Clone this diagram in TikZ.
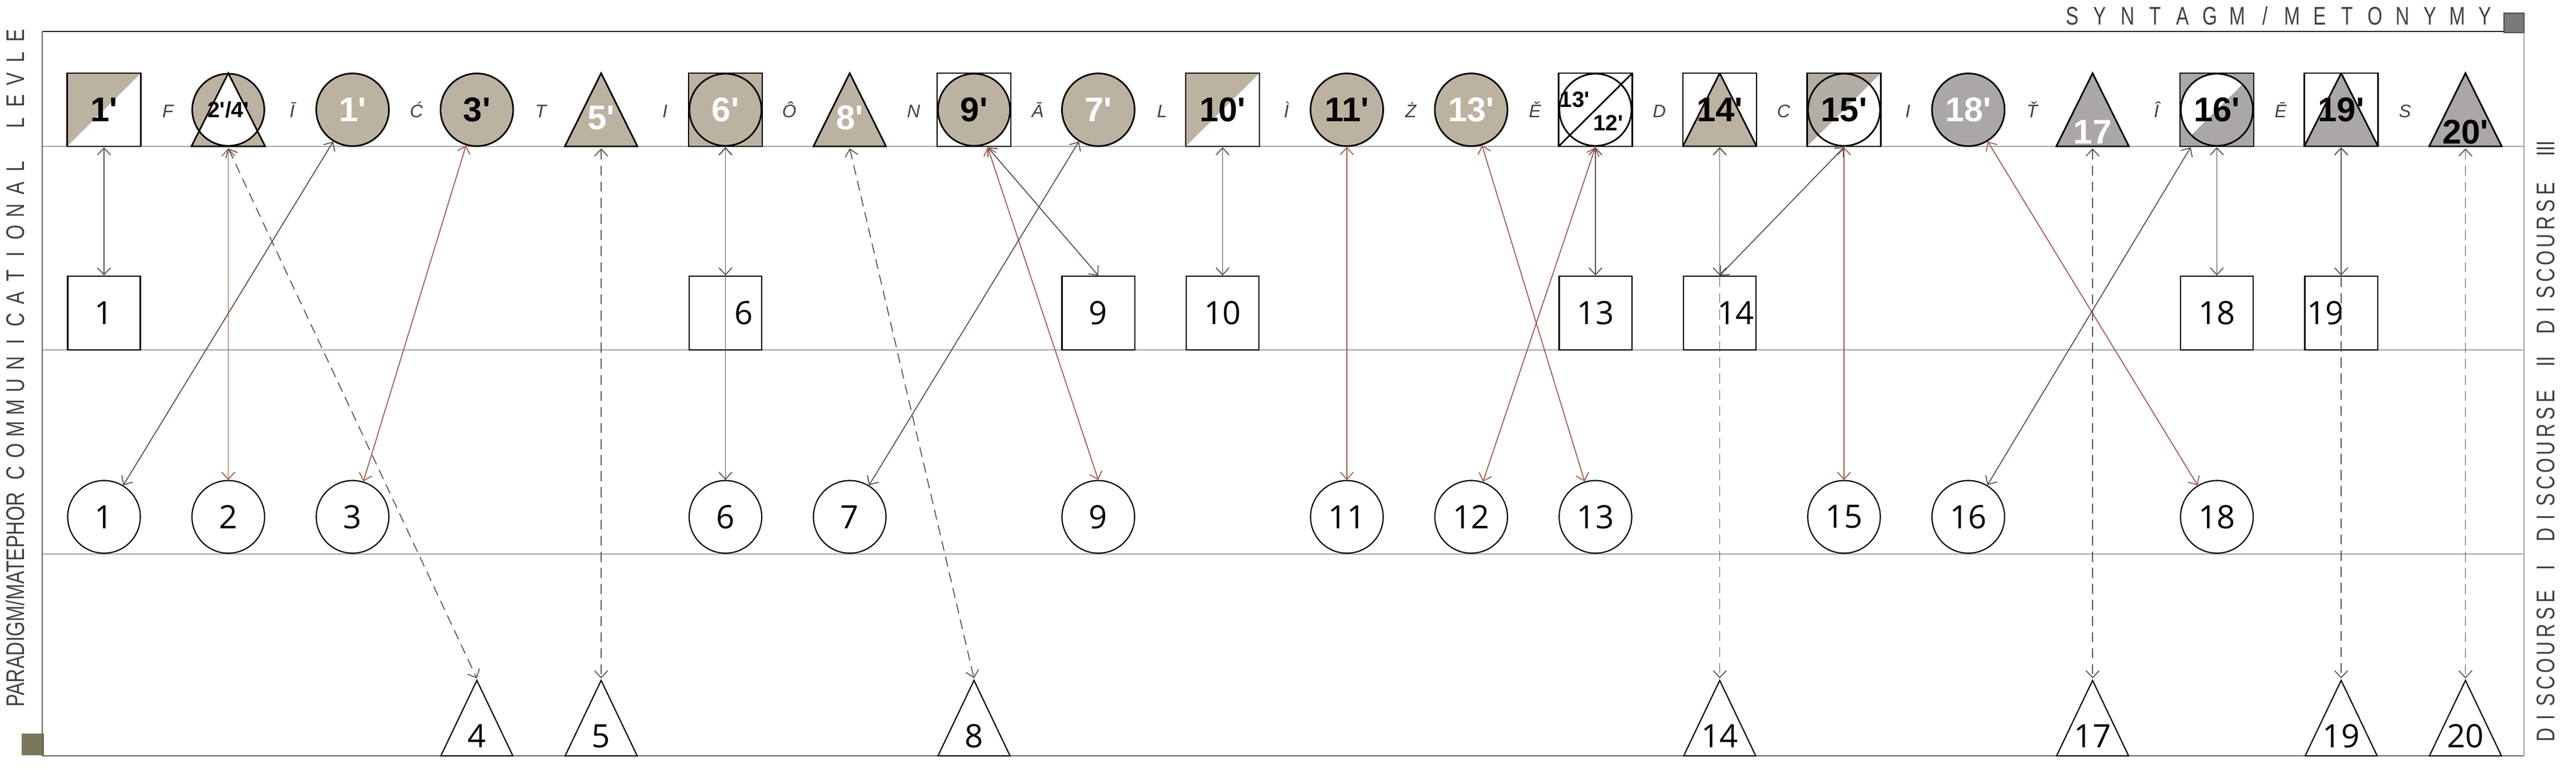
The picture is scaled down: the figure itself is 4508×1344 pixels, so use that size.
\documentclass[tikz,border=0pt]{standalone}
\usepackage{graphicx}
\usepackage{fontspec}
\setmainfont{Liberation Sans}
\newfontfamily\numfamily{Open Sans}
\usetikzlibrary{arrows.meta}

\definecolor{shadetan}{RGB}{188,178,161}
\definecolor{shadegrey}{RGB}{171,166,168}
\definecolor{greytan}{RGB}{178,173,165}
\definecolor{linkdark}{RGB}{95,80,78}
\definecolor{linkred}{RGB}{160,92,80}
\definecolor{rulegrey}{RGB}{165,165,165}
\definecolor{olivebox}{RGB}{122,118,92}

\newcommand\topnum{\fontsize{17}{17}\selectfont\bfseries}
\newcommand\twonum{\fontsize{11}{11}\selectfont\bfseries}
\newcommand\lownum{\numfamily\fontsize{16}{16}\selectfont}
\newcommand\gapfont{\fontsize{9}{9}\selectfont\itshape}
\newcommand\edgefont{\fontsize{12.7}{12.7}\selectfont}
\newcommand\primemark{\textquotesingle}
\newcommand\ppb{path picture bounding box}
\newcommand\narrow[1]{\scalebox{0.75}[1]{#1}}

\tikzset{
  >={Straight Barb[length=3.5pt,width=6.5pt]},
  link/.style={<->, line width=0.5pt, linkdark},
  redlink/.style={link, linkred},
  dashlink/.style={link, dash pattern=on 5pt off 3pt, black!65},
  tsq/.style={rectangle, draw, minimum width=1.29cm, minimum height=1.28cm,
    inner sep=0pt, font=\topnum},
  halfsq/.style={tsq, path picture={\fill[#1] (\ppb.north west) --
    (\ppb.north east) -- (\ppb.south west) -- cycle;}},
  ringsq/.style 2 args={tsq, fill=#1, path picture={\filldraw[fill=#2]
    (\ppb.center) circle (0.63cm);}},
  trisq/.style={tsq, path picture={\filldraw[fill=#1] (\ppb.south west) --
    (\ppb.north) -- (\ppb.south east) -- cycle;}},
  crosssq/.style={tsq, path picture={\draw (\ppb.center) circle (0.63cm);
    \draw (\ppb.south west) -- (\ppb.north east);}},
  halfring/.style={tsq, path picture={\fill[#1] (\ppb.north west) --
    (\ppb.north east) -- (\ppb.south west) -- cycle;
    \draw (\ppb.center) circle (0.63cm);}},
  splitsq/.style={tsq, fill=#1, path picture={\fill[white] (\ppb.center)
    circle (0.63cm);
    \begin{scope}\clip (\ppb.center) circle (0.63cm);
    \fill[#1] (\ppb.north east) -- (\ppb.south east) -- (\ppb.south west) -- cycle;
    \end{scope}
    \draw (\ppb.center) circle (0.63cm);}},
  tcirc/.style={circle, draw, fill=#1, minimum size=1.27cm, inner sep=0pt,
    font=\topnum},
  tcirc/.default=shadetan,
  twin/.style={rectangle, minimum width=1.33cm, minimum height=1.32cm,
    inner sep=0pt, font=\twonum, path picture={\filldraw[fill=#1, even odd rule]
    (\ppb.center) circle (0.63cm)
    ([shift={(-0.645cm,-0.64cm)}]\ppb.center) -- ([shift={(0cm,0.64cm)}]\ppb.center)
    -- ([shift={(0.645cm,-0.64cm)}]\ppb.center) -- cycle;}},
  ttri/.style={rectangle, minimum width=1.31cm, minimum height=1.32cm,
    inner sep=0pt, font=\topnum, text depth=0pt, path picture={\filldraw[fill=#1]
    ([shift={(-0.635cm,-0.64cm)}]\ppb.center) -- ([shift={(0cm,0.64cm)}]\ppb.center)
    -- ([shift={(0.635cm,-0.64cm)}]\ppb.center) -- cycle;}},
  lsq/.style={rectangle, draw, line width=0.6pt, minimum width=1.27cm,
    minimum height=1.29cm, inner sep=0pt, font=\lownum},
  lcirc/.style={circle, draw, line width=0.6pt, minimum size=1.27cm,
    inner sep=0pt, font=\lownum},
  ltri/.style={rectangle, minimum width=1.30cm, minimum height=1.36cm,
    inner sep=0pt, font=\lownum, text height=1.02cm, text depth=0pt,
    path picture={\filldraw[fill=white, line width=0.6pt]
    ([shift={(-0.63cm,-0.66cm)}]\ppb.center) -- ([shift={(0cm,0.66cm)}]\ppb.center)
    -- ([shift={(0.63cm,-0.66cm)}]\ppb.center) -- cycle;}},
  gapletter/.style={font=\gapfont, text=black!75, inner sep=0pt, anchor=base},
  edgetext/.style={font=\edgefont, text=black!75, inner sep=0pt, anchor=base}
}

\begin{document}
\begin{tikzpicture}[x=0.01cm, y=-0.01cm, line width=0.8pt]
\useasboundingbox (0,0) rectangle (4508,1344);

% frame and level rules
\draw[black!85] (74,55) -- (4382,55);
\filldraw[fill=black!52, draw=black!70, line width=0.4pt] (4382,23) rectangle (4417,57);
\fill[olivebox] (38,1283) rectangle (77,1321);
\foreach \yy in {256,612,969}
  \draw[rulegrey, line width=0.5pt] (74,\yy) -- (4417,\yy);
\draw[black!60, line width=0.6pt] (74,55) -- (74,1322) -- (4417,1322);
\draw[rulegrey, line width=0.6pt] (4417,57) -- (4417,1322);

% syntagm row
\node[halfsq=shadetan] (t0) at (182,192) {1\primemark};
\node[twin=shadetan] (t1) at (399.5,192) {2\primemark/4\primemark};
\node[tcirc, text=white] (t2) at (617,192) {1\primemark};
\node[tcirc] (t3) at (834.5,192) {3\primemark};
\node[ttri=shadetan, text=white, text height=0.69cm] (t4) at (1052,192) {5\primemark};
\node[ringsq={shadetan}{shadetan}, text=white] (t5) at (1269.5,192) {6\primemark};
\node[ttri=shadetan, text=white, text height=0.69cm] (t6) at (1487,192) {8\primemark};
\node[ringsq={white}{shadetan}] (t7) at (1704.5,192) {9\primemark};
\node[tcirc, text=white] (t8) at (1922,192) {7\primemark};
\node[halfsq=shadetan] (t9) at (2139.5,192) {10\primemark};
\node[tcirc] (t10) at (2357,192) {11\primemark};
\node[tcirc, text=white] (t11) at (2574.5,192) {13\primemark};
\node[crosssq] (t12) at (2792,192) {\raisebox{0pt}[0pt][0pt]{\twonum
  \llap{\raisebox{0.05cm}{13\primemark}\hspace{0.1cm}}%
  \rlap{\hspace{-0.04cm}\raisebox{-0.36cm}{12\primemark}}}};
\node[trisq=shadetan] (t13) at (3009.5,192) {14\primemark};
\node[halfring=greytan] (t14) at (3227,192) {15\primemark};
\node[tcirc=shadegrey, text=white] (t15) at (3444.5,192) {18\primemark};
\node[ttri=shadegrey, text=white, text height=1.19cm] (t16) at (3662,192) {17};
\node[splitsq=shadegrey] (t17) at (3879.5,192) {16\primemark};
\node[trisq=shadegrey] (t18) at (4097,192) {19\primemark};
\node[ttri=shadegrey, text height=1.19cm] (t19) at (4314.5,192) {20\primemark};

% letters between the syntagm signs
\foreach \ch [count=\i from 0] in {F,Ī,Ć,T,I,Ô,N,Ā,L,Ì,Ż,Ě,D,C,I,Ť,Î,Ē,S}
  \node[gapletter] (g\i) at ({293.75+217.5*\i},205) {\ch};

% discourse III
\node[lsq] (a0) at (182,547.5) {1};
\node[lsq] (a5) at (1269.5,547.5) {\makebox[0.96cm][r]{6}};
\node[lsq] (a8) at (1922,547.5) {9};
\node[lsq] (a9) at (2139.5,547.5) {10};
\node[lsq] (a12) at (2792,547.5) {13};
\node[lsq] (a13) at (3009.5,547.5) {\makebox[1.2cm][r]{14}};
\node[lsq] (a17) at (3879.5,547.5) {18};
\node[lsq] (a18) at (4097,547.5) {\makebox[1.2cm][l]{19}};

% discourse II
\node[lcirc] (b0) at (182,904) {1};
\node[lcirc] (b1) at (399.5,904) {2};
\node[lcirc] (b2) at (617,904) {3};
\node[lcirc] (b5) at (1269.5,904) {6};
\node[lcirc] (b6) at (1487,904) {7};
\node[lcirc] (b8) at (1922,904) {9};
\node[lcirc] (b10) at (2357,904) {11};
\node[lcirc] (b11) at (2574.5,904) {12};
\node[lcirc] (b12) at (2792,904) {13};
\node[lcirc] (b14) at (3227,904) {15};
\node[lcirc] (b15) at (3444.5,904) {16};
\node[lcirc] (b17) at (3879.5,904) {18};

% discourse I
\node[ltri] (c3) at (834.5,1256) {4};
\node[ltri] (c4) at (1052,1256) {5};
\node[ltri] (c7) at (1704.5,1256) {8};
\node[ltri] (c13) at (3009.5,1256) {14};
\node[ltri] (c16) at (3662,1256) {17};
\node[ltri] (c18) at (4097,1256) {19};
\node[ltri] (c19) at (4314.5,1256) {20};

% paradigm links
\draw[link] (t0.south) -- (a0.north);
\draw[redlink] (t1.south) -- (b1.north);
\draw[dashlink] (t1.south) -- (c3.north);
\draw[link] (t2) -- (b0);
\draw[redlink] (t3) -- (b2);
\draw[dashlink] (t4.south) -- (c4.north);
\draw[link] (t5.south) -- (a5.north);
\draw[link] (t5.south) -- (b5.north);
\draw[dashlink] (t6.south) -- (c7.north);
\draw[link] (t7.-70) -- (a8.north);
\draw[redlink] (t7.-70) -- (b8.north);
\draw[link] (t8) -- (b6);
\draw[link] (t9.south) -- (a9.north);
\draw[redlink] (t10.south) -- (b10.north);
\draw[redlink] (t11) -- (b12);
\draw[redlink] (t12.south) -- (b11);
\draw[link] (t12.south) -- (a12.north);
\draw[link] (t13.south) -- (a13.north);
\draw[dashlink] (t13.south) -- (c13.north);
\draw[redlink] (t14.south) -- (b14.north);
\draw[link] (t14.south) -- (a13.north);
\draw[redlink] (t15) -- (b17);
\draw[dashlink] (t16.south) -- (c16.north);
\draw[link] (t17.-125) -- (b15);
\draw[link] (t17.south) -- (a17.north);
\draw[link] (t18.south) -- (a18.north);
\draw[dashlink] (t18.south) -- (c18.north);
\draw[dashlink] (t19.south) -- (c19.north);

% edge captions
\foreach \ch [count=\k from 0] in {S,Y,N,T,A,G,M,/,M,E,T,O,N,Y,M,Y}
  \node[edgetext] (sy\k) at ({3627+48.1*\k},43) {\narrow{\ch}};
\node[edgetext, anchor=base west, rotate=90] (paradigm) at (42,1238)
  {\scalebox{0.755}[1]{PARADIGM/MATEPHOR}};
\foreach \ch [count=\k from 0] in {C,O,M,M,U,N,I,C,A,T,I,O,N,A,L}
  \node[edgetext, rotate=90] (lv\k) at (42,{827-38.25*\k}) {\narrow{\ch}};
\foreach \ch [count=\k from 16] in {L,E,V,L,E}
  \node[edgetext, rotate=90] (lv\k) at (42,{827-38.25*\k}) {\narrow{\ch}};
\foreach \s [count=\w] in {1285,935,572}
  \foreach \ch [count=\k from 0] in {D,I,S,C,O,U,R,S,E}
    \node[edgetext, rotate=90] (d\w-\k) at (4470,{\s-30.2*\k}) {\narrow{\ch}};
\node[edgetext, rotate=90] (dI) at (4470,993) {\narrow{I}};
\node[edgetext, rotate=90] (dII) at (4470,632) {\narrow{II}};
\node[edgetext, rotate=90] (dIII) at (4470,260) {\narrow{III}};
\end{tikzpicture}
\end{document}
